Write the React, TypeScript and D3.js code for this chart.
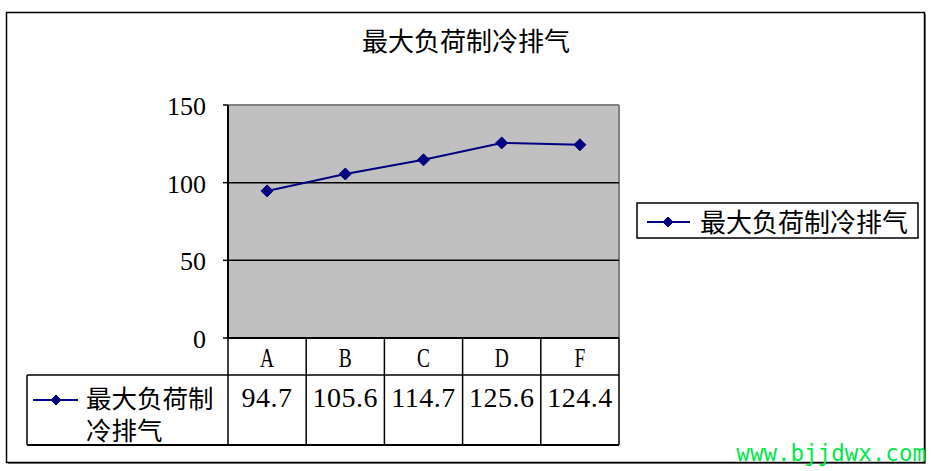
import React from "react";
import * as d3 from "d3";

const title = "最大负荷制冷排气";
const seriesName = "最大负荷制冷排气";
const seriesNameLines = ["最大负荷制", "冷排气"];
const categories = ["A", "B", "C", "D", "F"];
const values = [94.7, 105.6, 114.7, 125.6, 124.4];
const valueLabels = ["94.7", "105.6", "114.7", "125.6", "124.4"];
const yTicks = [0, 50, 100, 150];

const W = 934;
const H = 471;
const plotL = 228;
const plotR = 619;
const plotT = 105;
const plotB = 338;
const row1B = 375;
const row2B = 445;
const tableL = 27;

const CJK = "'Noto Sans CJK SC', sans-serif";
const SERIF = "'Liberation Serif', serif";
const NAVY = "#000080";

function Diamond({ cx, cy, r }: { cx: number; cy: number; r: number }) {
  return (
    <path
      d={`M${cx},${cy - r}L${cx + r},${cy}L${cx},${cy + r}L${cx - r},${cy}Z`}
      fill={NAVY}
      stroke={NAVY}
      strokeWidth={1}
    />
  );
}

export default function App() {
  const x = d3.scaleBand<string>().domain(categories).range([plotL, plotR]);
  const y = d3.scaleLinear().domain([0, 150]).range([plotB, plotT]);
  const line = d3
    .line<number>()
    .x((_, i) => (x(categories[i]) as number) + x.bandwidth() / 2)
    .y((d) => y(d));

  const colEdges = [plotL, ...categories.map((c) => (x(c) as number) + x.bandwidth())];

  return (
    <svg
      width={W}
      height={H}
      style={{ position: "absolute", left: 0, top: 0, background: "#fff" }}
    >
      {/* outer border with shadow */}
      <rect x={8} y={14} width={918} height={450} fill="#808080" />
      <rect x={6.5} y={12.5} width={918} height={450} fill="#fff" stroke="#000" strokeWidth={1.5} />

      {/* title */}
      <text x={466} y={51} textAnchor="middle" fontFamily={CJK} fontSize={26} fill="#000">
        {title}
      </text>

      {/* plot area */}
      <rect x={plotL} y={plotT} width={plotR - plotL} height={plotB - plotT} fill="#c0c0c0" />
      <line x1={plotL} x2={plotR} y1={plotT} y2={plotT} stroke="#808080" strokeWidth={2} />
      <line x1={plotR} x2={plotR} y1={plotT} y2={plotB} stroke="#808080" strokeWidth={2} />
      {yTicks
        .filter((t) => t > 0 && t < 150)
        .map((t) => (
          <line key={t} x1={plotL} x2={plotR} y1={y(t)} y2={y(t)} stroke="#000" strokeWidth={1.5} />
        ))}
      <line x1={plotL} x2={plotL} y1={plotT} y2={plotB} stroke="#000" strokeWidth={2} />
      {yTicks.map((t) => (
        <g key={t}>
          <line x1={plotL - 5} x2={plotL} y1={y(t)} y2={y(t)} stroke="#000" strokeWidth={1.5} />
          <text
            x={206}
            y={y(t) + 10}
            textAnchor="end"
            fontFamily={SERIF}
            fontSize={26}
            fill="#000"
          >
            {t}
          </text>
        </g>
      ))}

      {/* series */}
      <path d={line(values) || ""} fill="none" stroke={NAVY} strokeWidth={2} />
      {values.map((v, i) => (
        <Diamond key={i} cx={(x(categories[i]) as number) + x.bandwidth() / 2} cy={y(v)} r={6} />
      ))}

      {/* data table */}
      <line x1={plotL} x2={plotR} y1={plotB} y2={plotB} stroke="#000" strokeWidth={2} />
      <line x1={tableL} x2={plotR} y1={row1B} y2={row1B} stroke="#000" strokeWidth={1.5} />
      <line x1={tableL} x2={plotR} y1={row2B} y2={row2B} stroke="#000" strokeWidth={2} />
      <line x1={tableL} x2={tableL} y1={row1B} y2={row2B} stroke="#000" strokeWidth={1.5} />
      {colEdges.map((e, i) => (
        <line key={i} x1={e} x2={e} y1={plotB} y2={row2B} stroke="#000" strokeWidth={1.5} />
      ))}
      {categories.map((c) => {
        const cx = (x(c) as number) + x.bandwidth() / 2;
        return (
          <text
            key={c}
            transform={`translate(${cx},367) scale(0.72,1)`}
            textAnchor="middle"
            fontFamily={SERIF}
            fontSize={27}
            fill="#000"
          >
            {c}
          </text>
        );
      })}
      {valueLabels.map((lab, i) => {
        const cx = (x(categories[i]) as number) + x.bandwidth() / 2;
        return (
          <text
            key={i}
            x={cx}
            y={407}
            textAnchor="middle"
            fontFamily={SERIF}
            fontSize={28}
            letterSpacing={0.5}
            fill="#000"
          >
            {lab}
          </text>
        );
      })}
      <line x1={33} x2={78} y1={400} y2={400} stroke={NAVY} strokeWidth={2} />
      <Diamond cx={56} cy={400} r={5} />
      {seriesNameLines.map((s, i) => (
        <text key={i} x={86} y={408 + i * 32} fontFamily={CJK} fontSize={25.5} fill="#000">
          {s}
        </text>
      ))}

      {/* legend */}
      <rect x={637} y={203} width={281} height={35} fill="#fff" stroke="#000" strokeWidth={1.5} />
      <line x1={647} x2={690} y1={222} y2={222} stroke={NAVY} strokeWidth={2} />
      <Diamond cx={668} cy={222} r={5} />
      <text x={700} y={232} fontFamily={CJK} fontSize={26} fill="#000">
        {seriesName}
      </text>

      {/* watermark */}
      <text
        x={926}
        y={461}
        textAnchor="end"
        fontFamily="'DejaVu Sans Mono', monospace"
        fontSize={22.5}
        fill="#00e84a"
      >
        www.bjjdwx.com
      </text>
    </svg>
  );
}
